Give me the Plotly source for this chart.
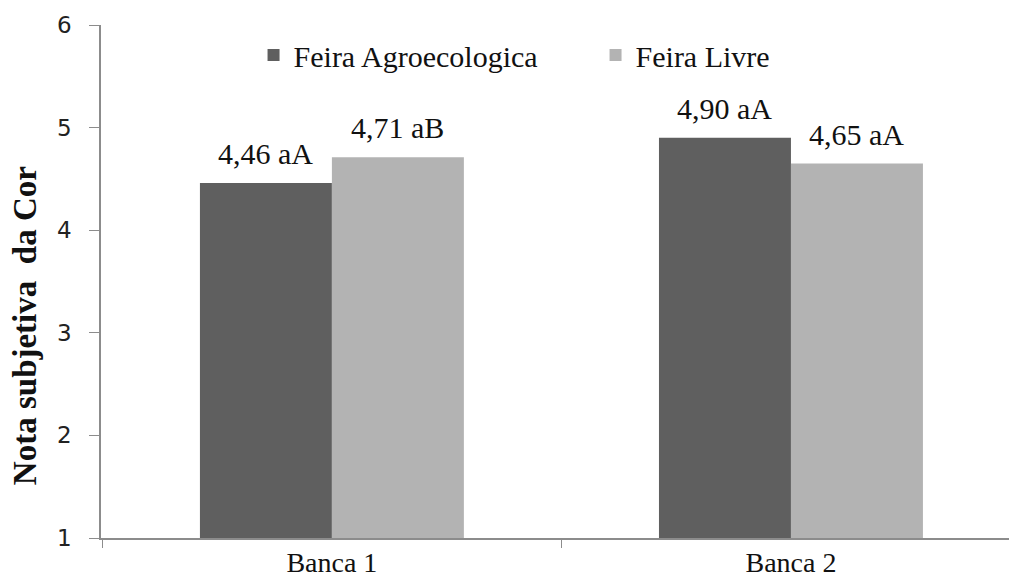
import plotly.graph_objects as go

categories = ["Banca 1", "Banca 2"]
series_names = ["Feira Agroecologica", "Feira Livre"]
agro_values = [4.46, 4.90]
livre_values = [4.71, 4.65]
agro_labels = ["4,46 aA", "4,90 aA"]
livre_labels = ["4,71 aB", "4,65 aA"]
y_ticks = [1, 2, 3, 4, 5, 6]
y_title = "Nota subjetiva  da Cor"

DARK = "#5f5f5f"
LIGHT = "#b3b3b3"
SERIF = "Liberation Serif, Times New Roman, serif"
SANS = "DejaVu Sans, Verdana, sans-serif"

fig = go.Figure()
fig.add_trace(go.Bar(x=categories, y=agro_values, name=series_names[0],
                     marker=dict(color=DARK, line=dict(width=0))))
fig.add_trace(go.Bar(x=categories, y=livre_values, name=series_names[1],
                     marker=dict(color=LIGHT, line=dict(width=0))))

for vals, labels, shift in [(agro_values, agro_labels, -66), (livre_values, livre_labels, 66)]:
    for c, v, t in zip(categories, vals, labels):
        fig.add_annotation(x=c, y=v, text=t, showarrow=False, xshift=shift,
                           yanchor="bottom", yshift=11,
                           font=dict(family=SERIF, size=30, color="#111"))

fig.add_annotation(xref="paper", yref="paper", x=-0.0837, y=0.413, text="<b>" + y_title + "</b>",
                   textangle=-90, showarrow=False, xanchor="center", yanchor="middle",
                   font=dict(family=SERIF, size=33, color="#111"))

fig.update_layout(
    width=1009, height=581,
    margin=dict(l=101, r=0, t=25, b=43),
    paper_bgcolor="white", plot_bgcolor="white",
    barmode="group", bargap=0.425, bargroupgap=0,
    showlegend=True,
    legend=dict(orientation="h", x=0.168, y=0.9415, xanchor="left", yanchor="middle",
                font=dict(family=SERIF, size=30, color="#111"),
                entrywidth=297, entrywidthmode="pixels",
                bgcolor="rgba(0,0,0,0)", itemsizing="constant"),
    xaxis=dict(range=[-0.503, 1.475], showline=True, linecolor="#8c8c8c", linewidth=1.5,
               ticks="outside", tickson="boundaries", ticklen=8, tickcolor="#8c8c8c",
               ticklabelstandoff=-1, automargin=False,
               tickfont=dict(family=SERIF, size=28, color="#111"), showgrid=False,
               zeroline=False),
    yaxis=dict(range=[1, 6], tickvals=y_ticks, showline=True, linecolor="#8c8c8c",
               linewidth=1.5, ticks="outside", ticklen=10, tickcolor="#8c8c8c",
               ticklabelstandoff=13, automargin=False,
               tickfont=dict(family=SANS, size=23, color="#222"),
               showgrid=False, zeroline=False),
)

fig.write_html("out.html", config={"displayModeBar": False},
               post_script="document.body.style.margin='0px';")
